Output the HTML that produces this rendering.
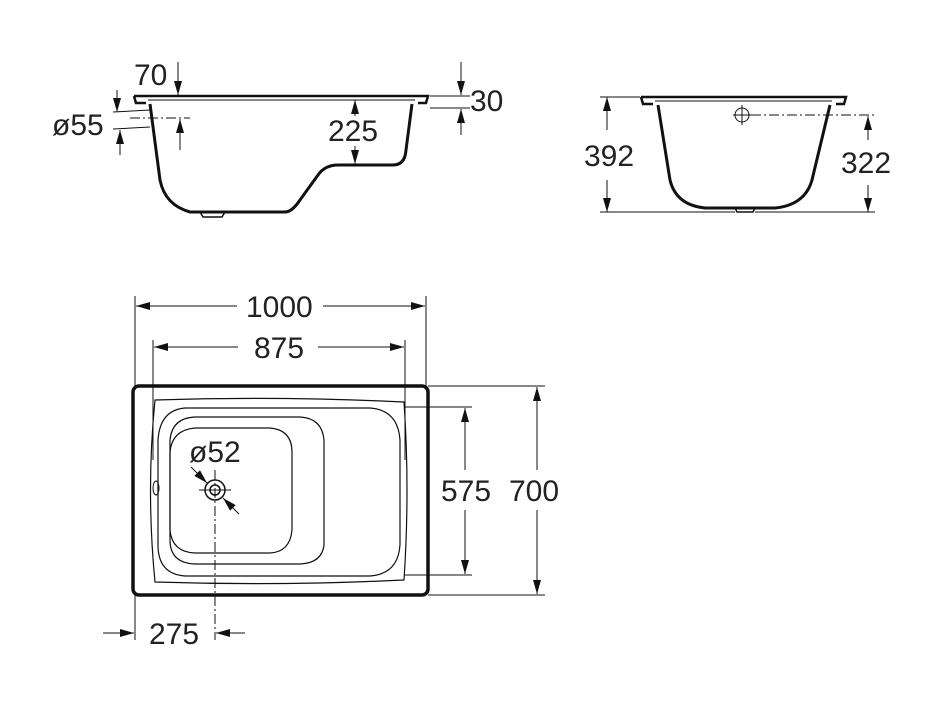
<!DOCTYPE html>
<html><head><style>body{margin:0;background:#fff}svg{display:block}text{font-family:"Liberation Sans",Arial,sans-serif;font-size:30px;fill:#222}</style></head><body>
<svg width="934" height="701" viewBox="0 0 934 701" xmlns="http://www.w3.org/2000/svg">
<defs><marker id="a" viewBox="0 0 14 10" refX="14" refY="5" markerWidth="14" markerHeight="10" markerUnits="userSpaceOnUse" orient="auto-start-reverse"><path d="M0,1L14,5L0,9z" fill="#111"/></marker></defs>
<g fill="none" stroke="#111">
<path d="M134,96 L428,96 L426,103 L418,103 M134,96 L136,103 L146,103" stroke-width="2.5"/>
<line x1="148" y1="100" x2="415" y2="100" stroke-width="1"/>
<path d="M150,104 L160,180 Q165,205 190,212 L285,212 Q292,212 300,200 L318,175 Q325,165 338,165 L393,165 Q405,165 406,150 L412,104" stroke-width="3"/>
<path d="M200,212 L203,217 L222,217 L225,212" stroke-width="1.5"/>
<line x1="178" y1="62" x2="178" y2="95" marker-end="url(#a)"/>
<line x1="117" y1="90" x2="117" y2="112" marker-end="url(#a)"/>
<line x1="120" y1="155" x2="120" y2="130" marker-end="url(#a)"/>
<line x1="113" y1="112" x2="150" y2="110"/><line x1="113" y1="129" x2="150" y2="127"/>
<line x1="130" y1="118" x2="190" y2="118" stroke-dasharray="10,3,2,3"/>
<line x1="180" y1="150" x2="180" y2="119" marker-end="url(#a)"/>
<line x1="355" y1="116" x2="355" y2="100" marker-end="url(#a)"/>
<line x1="355" y1="146" x2="355" y2="164" marker-end="url(#a)"/>
<line x1="461" y1="62" x2="461" y2="95" marker-end="url(#a)"/>
<line x1="461" y1="135" x2="461" y2="109" marker-end="url(#a)"/>
<line x1="430" y1="96" x2="470" y2="96"/><line x1="430" y1="108" x2="470" y2="108"/>
<path d="M641,97 L846,97 L844,104 L836,104 M641,97 L643,104 L653,104" stroke-width="2.5"/>
<line x1="655" y1="101" x2="832" y2="101"/>
<path d="M658,105 L670,180 Q676,205 705,208 L775,208 Q805,205 812,180 L830,105" stroke-width="3"/>
<path d="M735,208 L737,212 L753,212 L755,208" stroke-width="1.5"/>
<line x1="600" y1="97" x2="640" y2="97"/><line x1="600" y1="212" x2="735" y2="212"/>
<line x1="607" y1="130" x2="607" y2="97" marker-end="url(#a)"/>
<line x1="607" y1="180" x2="607" y2="212" marker-end="url(#a)"/>
<circle cx="742" cy="115" r="7"/><line x1="733" y1="115" x2="751" y2="115"/><line x1="742" y1="105" x2="742" y2="125"/>
<line x1="751" y1="115" x2="875" y2="115" stroke-dasharray="10,3,2,3"/>
<line x1="755" y1="212" x2="875" y2="212"/>
<line x1="868" y1="140" x2="868" y2="116" marker-end="url(#a)"/>
<line x1="868" y1="185" x2="868" y2="212" marker-end="url(#a)"/>
<rect x="133" y="386" width="295" height="209" rx="6" stroke-width="3.5"/>
<path d="M155,400 Q280,396 404,402 Q410,490 404,580 Q280,586 155,582 Q146,490 155,400Z" stroke-width="1.2"/>
<path d="M185,408 L370,408 Q398,410 400,440 L400,545 Q398,574 370,576 L185,576 Q158,574 158,545 L158,440 Q160,410 185,408Z" stroke-width="1.2"/>
<path d="M195,417 L300,417 Q322,418 324,440 L324,545 Q322,563 300,564 L195,564 Q170,563 170,540 L170,440 Q172,418 195,417Z" stroke-width="1.2"/>
<path d="M195,428 L270,428 Q292,430 292,452 L292,530 Q290,552 270,553 L195,553 Q172,552 170,530 L170,452 Q172,430 195,428Z" stroke-width="1.2"/>
<ellipse cx="156" cy="488" rx="3" ry="7" stroke-width="1"/>
<circle cx="215" cy="490" r="10" stroke-width="1.5"/><circle cx="215" cy="490" r="5" stroke-width="1.5"/>
<line x1="199" y1="490" x2="231" y2="490"/>
<line x1="215" y1="470" x2="215" y2="640" stroke-dasharray="10,3,2,3"/>
<line x1="191" y1="467" x2="207" y2="483" marker-end="url(#a)"/>
<line x1="239" y1="514" x2="223" y2="498" marker-end="url(#a)"/>
<line x1="135" y1="296" x2="135" y2="386"/><line x1="426" y1="296" x2="426" y2="386"/>
<line x1="237" y1="306" x2="136" y2="306" marker-end="url(#a)"/>
<line x1="323" y1="306" x2="425" y2="306" marker-end="url(#a)"/>
<line x1="153" y1="340" x2="153" y2="460"/><line x1="405" y1="340" x2="405" y2="460"/>
<line x1="238" y1="347" x2="154" y2="347" marker-end="url(#a)"/>
<line x1="318" y1="347" x2="404" y2="347" marker-end="url(#a)"/>
<line x1="405" y1="407" x2="472" y2="407"/><line x1="405" y1="575" x2="472" y2="575"/>
<line x1="465" y1="470" x2="465" y2="408" marker-end="url(#a)"/>
<line x1="465" y1="510" x2="465" y2="574" marker-end="url(#a)"/>
<line x1="428" y1="386" x2="545" y2="386"/><line x1="428" y1="595" x2="545" y2="595"/>
<line x1="537" y1="470" x2="537" y2="387" marker-end="url(#a)"/>
<line x1="537" y1="510" x2="537" y2="594" marker-end="url(#a)"/>
<line x1="135" y1="595" x2="135" y2="640"/>
<line x1="103" y1="633" x2="134" y2="633" marker-end="url(#a)"/>
<line x1="245" y1="633" x2="216" y2="633" marker-end="url(#a)"/>
</g>
<text x="134" y="85">70</text>
<text x="52" y="135">ø55</text>
<text x="328" y="141">225</text>
<text x="470" y="111">30</text>
<text x="584" y="166">392</text>
<text x="841" y="173">322</text>
<text x="246" y="317">1000</text>
<text x="254" y="358">875</text>
<text x="189" y="462">ø52</text>
<text x="441" y="501">575</text>
<text x="509" y="501">700</text>
<text x="149" y="644">275</text>
</svg>
</body></html>
